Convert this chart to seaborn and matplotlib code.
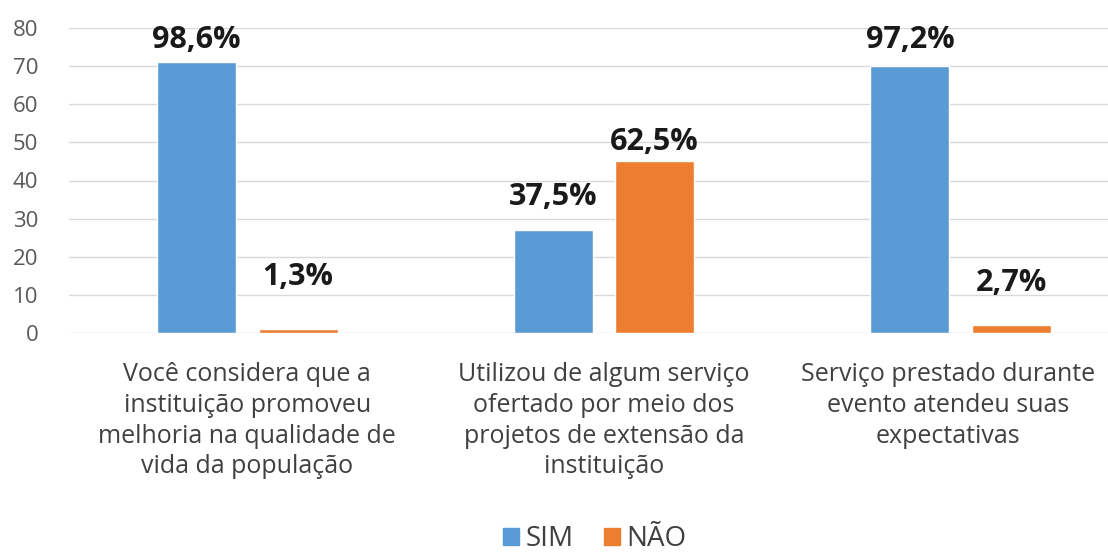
import pandas as pd
import matplotlib
matplotlib.use("Agg")
import matplotlib.pyplot as plt
import matplotlib.transforms as mtransforms
from matplotlib.patches import Patch
import seaborn as sns

# data (n = 72 respondents)
categories = [
    "Você considera que a\ninstituição promoveu\nmelhoria na qualidade de\nvida da população",
    "Utilizou de algum serviço\nofertado por meio dos\nprojetos de extensão da\ninstituição",
    "Serviço prestado durante\nevento atendeu suas\nexpectativas",
]
sim_values = [71, 27, 70]
nao_values = [1, 45, 2]
sim_labels = ["98,6%", "37,5%", "97,2%"]
nao_labels = ["1,3%", "62,5%", "2,7%"]
y_ticks = [0, 10, 20, 30, 40, 50, 60, 70, 80]
series = ["SIM", "NÃO"]
colors = ["#5B9BD5", "#ED7D31"]

df = pd.DataFrame({
    "categoria": categories * 2,
    "resposta": [series[0]] * len(categories) + [series[1]] * len(categories),
    "valor": sim_values + nao_values,
})

sns.set_theme(style="white")
plt.rcParams["font.family"] = ["Open Sans", "DejaVu Sans"]

fig = plt.figure(figsize=(11.08, 5.56), dpi=100)
ax = fig.add_axes([69 / 1108, 223 / 556, 1070 / 1108, 305 / 556])

sns.barplot(data=df, x="categoria", y="valor", hue="resposta",
            hue_order=series, palette=colors, saturation=1,
            width=0.569, gap=0.222, errorbar=None, legend=False, ax=ax)

ax.set_ylim(0, 80)
ax.set_yticks(y_ticks)
ax.yaxis.grid(True, color="#d9d9d9", linewidth=1)
ax.set_axisbelow(True)
for s in ax.spines.values():
    s.set_visible(False)
ax.set_xlabel("")
ax.set_ylabel("")
ax.tick_params(axis="y", length=0, labelsize=16, labelcolor="#595959", pad=22)
ax.tick_params(axis="x", length=0, labelsize=18, labelcolor="#404040", pad=21)
for lab in ax.get_xticklabels():
    lab.set_linespacing(1.3)
last = ax.get_xticklabels()[2]
last.set_transform(last.get_transform() +
                   mtransforms.ScaledTranslation(-13 / 100, 0, fig.dpi_scale_trans))

# value labels (placed by hand in the original, so the lift varies per bar)
lifts = [[5, 13, 8], [27, 3, 20]]
for cont, labels, lift in zip(ax.containers, [sim_labels, nao_labels], lifts):
    for bar, txt, pad in zip(cont, labels, lift):
        ax.annotate(txt, (bar.get_x() + bar.get_width() / 2, bar.get_height()),
                    xytext=(0, pad), textcoords="offset points",
                    ha="center", va="bottom", fontsize=22, fontweight="bold",
                    color="#1a1a1a")

handles = [Patch(color=c, label=l) for c, l in zip(colors, series)]
leg = fig.legend(handles=handles, loc="lower center", bbox_to_anchor=(595 / 1108, 0.0),
                 ncol=2, frameon=False, fontsize=20, handlelength=0.55, handleheight=0.55,
                 handletextpad=0.25, columnspacing=1.1, borderpad=0.0, borderaxespad=0.1)
for t in leg.get_texts():
    t.set_color("#404040")

fig.savefig("out.png", dpi=100)
